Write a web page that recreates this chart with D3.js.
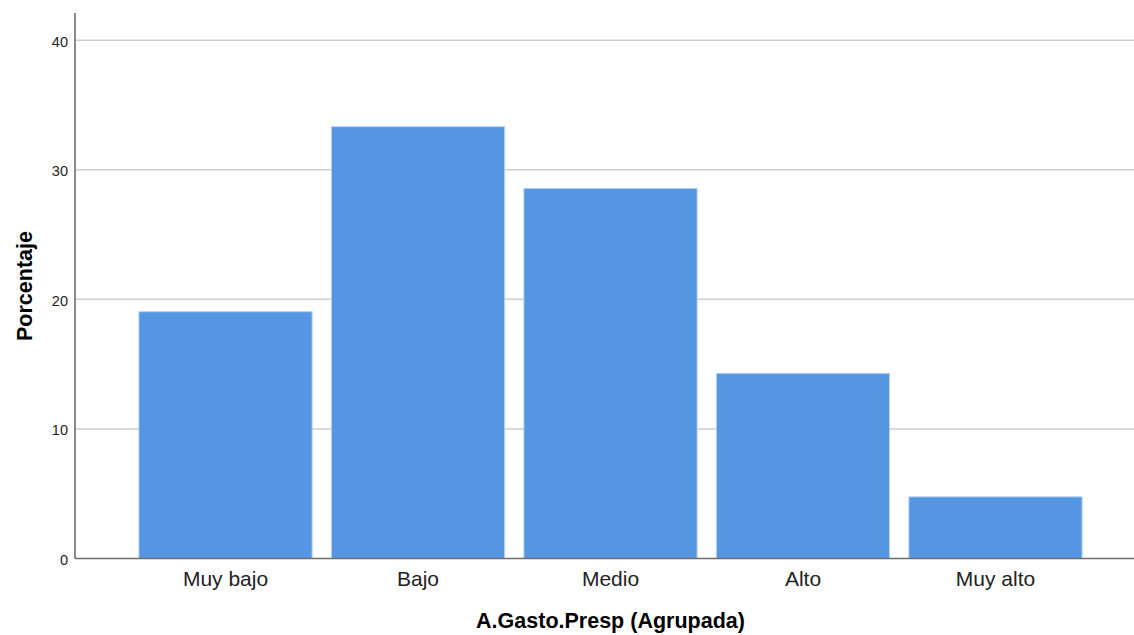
<!DOCTYPE html>
<html>
<head>
<meta charset="utf-8">
<script src="https://cdn.jsdelivr.net/npm/d3@7"></script>
<style>
  html, body { margin: 0; padding: 0; background: #fff; }
  svg { display: block; font-family: "Liberation Sans", Arial, sans-serif; }
</style>
</head>
<body>
<svg id="chart" width="1134" height="635"></svg>
<script>
const categories = ["Muy bajo", "Bajo", "Medio", "Alto", "Muy alto"];
const values = [19.05, 33.33, 28.57, 14.29, 4.76];
const yTicks = [0, 10, 20, 30, 40];
const xTitle = "A.Gasto.Presp (Agrupada)";
const yTitle = "Porcentaje";

(function () {
const svg = d3.select("#chart");
const mLeft = 75, mRight = 1146, mTop = 13, mBottom = 558.5;

const x = d3.scaleBand().domain(categories).range([mLeft, mRight])
  .paddingInner(0.1).paddingOuter(0.332);
const y = d3.scaleLinear().domain([0, 42.1]).range([mBottom, mTop]);

// gridlines
svg.append("g").selectAll("line").data(yTicks.filter(d => d > 0)).join("line")
  .attr("x1", mLeft).attr("x2", 1134)
  .attr("y1", d => y(d)).attr("y2", d => y(d))
  .attr("stroke", "#cfcfcf").attr("stroke-width", 1.5);

// bars
svg.append("g").selectAll("rect").data(values).join("rect")
  .attr("x", (d, i) => x(categories[i]))
  .attr("width", x.bandwidth())
  .attr("y", d => y(d))
  .attr("height", d => y(0) - y(d))
  .attr("fill", "#5596e3")
  .attr("stroke", "#b9d3f3").attr("stroke-width", 1);

// y axis
const yAxis = d3.axisLeft(y).tickValues(yTicks).tickSize(0).tickPadding(7);
const gy = svg.append("g").attr("transform", `translate(${mLeft},0)`).call(yAxis);
gy.select(".domain").remove();
gy.selectAll("text").attr("font-size", "14.5px").attr("fill", "#222")
  .attr("font-family", "Liberation Sans, Arial, sans-serif").attr("dy", "0.4em");
svg.append("line").attr("x1", mLeft).attr("x2", mLeft).attr("y1", mTop).attr("y2", mBottom)
  .attr("stroke", "#8a8a8a").attr("stroke-width", 2);

// x axis
const xAxis = d3.axisBottom(x).tickSize(0).tickPadding(12);
const gx = svg.append("g").attr("transform", `translate(0,${mBottom})`).call(xAxis);
gx.select(".domain").remove();
gx.selectAll("text").attr("font-size", "21px").attr("fill", "#222")
  .attr("font-family", "Liberation Sans, Arial, sans-serif").attr("dy", "0.72em");
svg.append("line").attr("x1", mLeft).attr("x2", 1134).attr("y1", mBottom).attr("y2", mBottom)
  .attr("stroke", "#6e6e6e").attr("stroke-width", 1.5);

// titles
svg.append("text").attr("x", (mLeft + mRight) / 2).attr("y", 628)
  .attr("text-anchor", "middle").attr("font-weight", "bold").attr("font-size", "21.5px")
  .attr("fill", "#000").text(xTitle);
svg.append("text").attr("transform", `translate(31.5,286) rotate(-90)`)
  .attr("text-anchor", "middle").attr("font-weight", "bold").attr("font-size", "21.5px")
  .attr("fill", "#000").text(yTitle);
})();
</script>
</body>
</html>
